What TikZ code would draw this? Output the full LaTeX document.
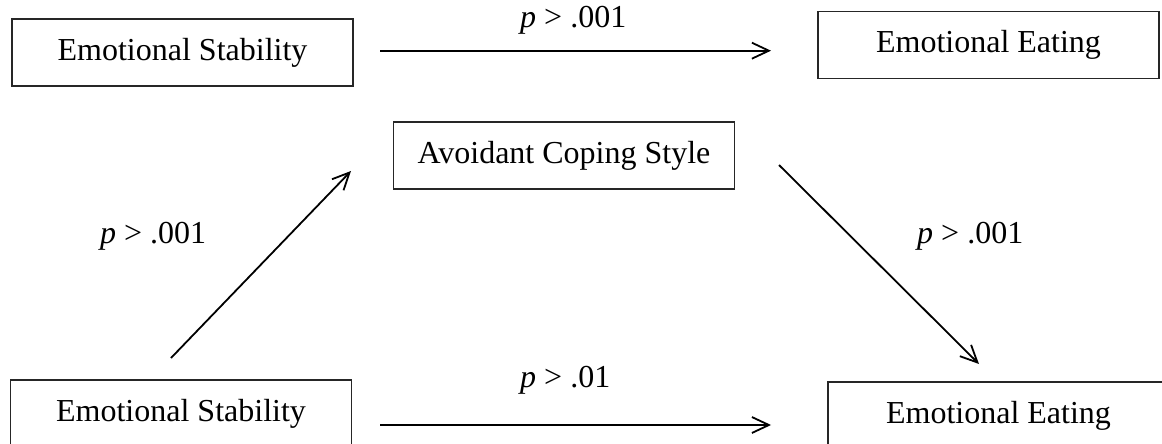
\documentclass[tikz,border=0pt]{standalone}
\usepackage{fontspec}
\setmainfont{Liberation Serif}
\usetikzlibrary{arrows.meta}
\begin{document}
\begin{tikzpicture}[x=1pt,y=-1pt,
  varbox/.style={draw=black!85, line width=1.4pt, minimum width=341pt, minimum height=67pt, inner sep=0pt, font=\fontsize{32}{38}\selectfont},
  plabel/.style={anchor=base west, inner sep=0pt, font=\fontsize{32}{38}\selectfont},
  conn/.style={line width=1.8pt, -{Straight Barb[length=17pt,width=16pt]}}
]
\useasboundingbox (0,0) rectangle (1162,444);
\clip (0,0) rectangle (1162,444);
\node[varbox] (es1) at (182.5,52.5) {Emotional Stability};
\node[varbox] (ee1) at (988.5,45) {Emotional Eating};
\node[varbox] (acs) at (564,155.5) {Avoidant Coping Style};
\node[varbox] (es2) at (181,413.5) {Emotional Stability};
\node[varbox] (ee2) at (998.5,415.5) {Emotional Eating};
\coordinate (t1) at (380,50.7);
\coordinate (t2) at (771,50.7);
\coordinate (b1) at (380,425);
\coordinate (b2) at (771,425);
\coordinate (l1) at (171,358);
\coordinate (l2) at (351,171);
\coordinate (r1) at (779,165);
\coordinate (r2) at (979,364);
\draw[conn] (t1) -- (t2);
\draw[conn] (b1) -- (b2);
\draw[conn] (l1) -- (l2);
\draw[conn] (r1) -- (r2);
\node[plabel] (lt) at (520,28) {\textit{p} > .001};
\node[plabel] (lb) at (520,387) {\textit{p} > .01};
\node[plabel] (ll) at (100,243) {\textit{p} > .001};
\node[plabel] (lr) at (917,243) {\textit{p} > .001};
\end{tikzpicture}
\end{document}
